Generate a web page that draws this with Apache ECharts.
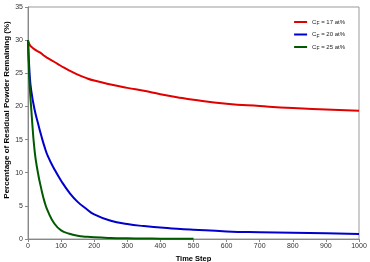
<!DOCTYPE html>
<html>
<head>
<meta charset="utf-8">
<script src="https://cdn.jsdelivr.net/npm/echarts@6/dist/echarts.min.js"></script>
<style>
  html, body { margin: 0; padding: 0; background: #fff; }
  #chart { width: 370px; height: 262px; }
</style>
</head>
<body>
<div id="chart"></div>
<script>
const timeSteps = [0, 5, 10, 20, 30, 40, 50, 60, 80, 100, 125, 150, 175, 200, 250, 300, 350, 400, 450, 500, 600, 700, 800, 900, 1000];
const cf17 = [30, 29.3, 29.0, 28.6, 28.3, 28.0, 27.6, 27.3, 26.7, 26.1, 25.4, 24.8, 24.3, 23.9, 23.3, 22.8, 22.35, 21.85, 21.4, 21.0, 20.4, 20.05, 19.75, 19.55, 19.35];
const cf20 = [30, 24.8, 22.3, 19.5, 17.5, 15.6, 13.9, 12.5, 10.5, 8.8, 7.0, 5.6, 4.6, 3.7, 2.75, 2.25, 1.95, 1.75, 1.55, 1.4, 1.15, 1.02, 0.93, 0.85, 0.75];
const greenSteps = [0, 3, 5, 10, 20, 30, 40, 50, 60, 80, 100, 125, 150, 175, 200, 250, 300, 350, 400, 450, 500];
const cf25 = [30, 25.2, 23.2, 19.5, 13.3, 10.0, 7.6, 5.6, 4.2, 2.3, 1.3, 0.8, 0.5, 0.35, 0.25, 0.15, 0.1, 0.07, 0.05, 0.04, 0.03];
const seriesNames = ["17", "20", "25"];
const seriesColors = ["#e00000", "#0000cc", "#005a00"];

const pairs = (xs, ys) => xs.map((x, i) => [x, ys[i]]);
const seriesData = [pairs(timeSteps, cf17), pairs(timeSteps, cf20), pairs(greenSteps, cf25)];

const font = "'Liberation Sans Narrow', 'Liberation Sans', Arial, sans-serif";

const option = {
  animation: false,
  grid: {
    left: 28,
    right: 11,
    top: 7,
    bottom: 23,
    containLabel: false,
    outerBoundsMode: "none",
    show: true,
    borderColor: "#999",
    borderWidth: 1,
  },
  // y title sits a bit above the plot centre, as in the original
  graphic: [
    {
      type: "text",
      x: 7,
      y: 110,
      rotation: Math.PI / 2,
      style: {
        text: "Percentage of Residual Powder Remaining (%)",
        font: "bold 8px " + font,
        fill: "#000",
        align: "center",
        verticalAlign: "middle",
      },
    },
  ],
  legend: {
    orient: "vertical",
    right: 20,
    top: 14,
    itemWidth: 13,
    itemHeight: 2,
    itemGap: 5,
    icon: "rect",
    data: seriesNames,
    formatter: (name) => "{c|C}{s|F}{c| = " + name + " at%}",
    textStyle: {
      fontFamily: font,
      rich: {
        c: { fontSize: 6, color: "#222", fontFamily: font },
        s: { fontSize: 5, color: "#222", fontFamily: font, padding: [4, 0, 0, 0] },
      },
    },
  },
  xAxis: {
    type: "value",
    min: 0,
    max: 1000,
    interval: 100,
    name: "Time Step",
    nameLocation: "middle",
    nameGap: 16,
    nameMoveOverlap: false,
    nameTextStyle: { fontFamily: font, fontSize: 7.5, fontWeight: "bold", color: "#000" },
    axisLine: { show: true, onZero: false, lineStyle: { color: "#888" } },
    axisTick: { show: true, inside: false, length: 3, lineStyle: { color: "#888" } },
    axisLabel: { fontFamily: font, fontSize: 7, color: "#333", margin: 4, formatter: (v) => String(v) },
    splitLine: { show: false },
  },
  yAxis: {
    type: "value",
    min: 0,
    max: 35,
    interval: 5,
    axisLine: { show: true, lineStyle: { color: "#888" } },
    axisTick: { show: true, inside: false, length: 3, lineStyle: { color: "#888" } },
    axisLabel: { fontFamily: font, fontSize: 7, color: "#333", margin: 5 },
    splitLine: { show: false },
  },
  series: seriesNames.map((n, i) => ({
    name: n,
    type: "line",
    data: seriesData[i],
    showSymbol: false,
    smooth: 0.5,
    color: seriesColors[i],
    lineStyle: { width: 2, color: seriesColors[i] },
  })),
};

const myChart = echarts.init(document.getElementById("chart"));
myChart.setOption(option);
</script>
</body>
</html>
